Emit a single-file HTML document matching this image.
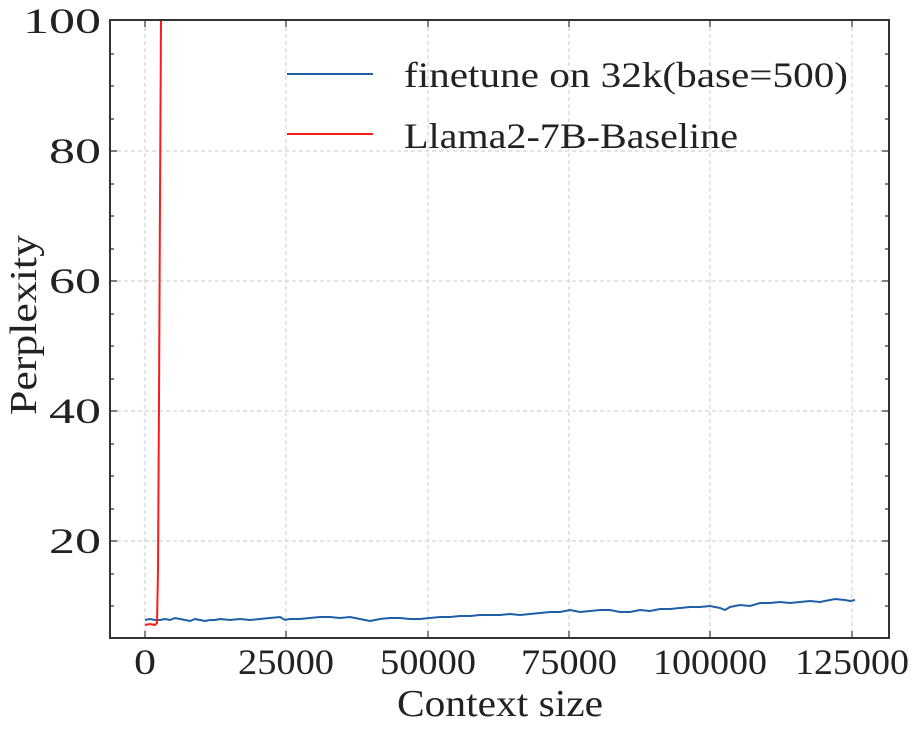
<!DOCTYPE html>
<html><head><meta charset="utf-8"><style>
html,body{margin:0;padding:0;background:#fff;}
svg text{font-family:"Liberation Serif",serif;fill:#222;}
</style></head><body>
<svg width="914" height="729" viewBox="0 0 914 729" xmlns="http://www.w3.org/2000/svg">
<rect width="914" height="729" fill="#fff"/>
<g stroke="#c8c8c8" stroke-width="1" stroke-dasharray="4,3">
<line x1="145" y1="20" x2="145" y2="638"/>
<line x1="286" y1="20" x2="286" y2="638"/>
<line x1="428" y1="20" x2="428" y2="638"/>
<line x1="569" y1="20" x2="569" y2="638"/>
<line x1="710" y1="20" x2="710" y2="638"/>
<line x1="852" y1="20" x2="852" y2="638"/>
<line x1="110" y1="541" x2="889" y2="541"/>
<line x1="110" y1="411" x2="889" y2="411"/>
<line x1="110" y1="281" x2="889" y2="281"/>
<line x1="110" y1="151" x2="889" y2="151"/>
</g>
<polyline fill="none" stroke="#1f5fa8" stroke-width="2" points="145,620 150,619 155,620 160,620 165,619 170,620 175,618 180,619 185,620 190,621 195,619 200,620 205,621 210,620 215,620 220,619 230,620 240,619 250,620 260,619 270,618 280,617 285,620 290,619 300,619 310,618 320,617 330,617 340,618 350,617 360,619 370,621 380,619 390,618 400,618 410,619 420,619 430,618 440,617 450,617 460,616 470,616 480,615 490,615 500,615 510,614 520,615 530,614 540,613 550,612 560,612 570,610 580,612 590,611 600,610 610,610 620,612 630,612 640,610 650,611 660,609 670,609 680,608 690,607 700,607 710,606 720,608 725,610 730,607 740,605 750,606 760,603 770,603 780,602 790,603 800,602 810,601 820,602 830,600 835,599 845,600 850,601 855,600"/>
<polyline fill="none" stroke="#ff1a1a" stroke-width="2" points="145,625 150,624 155,625 157,623 158,570 159,400 160,200 161,20"/>
<rect x="110" y="20" width="779" height="618" fill="none" stroke="#333" stroke-width="2"/>
<g stroke="#333" stroke-width="1.2">
<path d="M145 638v-7M286 638v-7M428 638v-7M569 638v-7M710 638v-7M852 638v-7M145 20v7M286 20v7M428 20v7M569 20v7M710 20v7M852 20v7"/>
<path d="M110 541h7M110 411h7M110 281h7M110 151h7M889 541h-7M889 411h-7M889 281h-7M889 151h-7"/>
<path d="M110 606h4M110 574h4M110 509h4M110 476h4M110 444h4M110 379h4M110 346h4M110 314h4M110 249h4M110 216h4M110 184h4M110 119h4M110 86h4M110 54h4
M889 606h-4M889 574h-4M889 509h-4M889 476h-4M889 444h-4M889 379h-4M889 346h-4M889 314h-4M889 249h-4M889 216h-4M889 184h-4M889 119h-4M889 86h-4M889 54h-4"/>
</g>
<g font-size="36" text-anchor="end">
<text x="101" y="33" textLength="78" lengthAdjust="spacingAndGlyphs">100</text>
<text x="101" y="163" textLength="52" lengthAdjust="spacingAndGlyphs">80</text>
<text x="101" y="293" textLength="52" lengthAdjust="spacingAndGlyphs">60</text>
<text x="101" y="423" textLength="52" lengthAdjust="spacingAndGlyphs">40</text>
<text x="101" y="553" textLength="52" lengthAdjust="spacingAndGlyphs">20</text>
</g>
<g font-size="36" text-anchor="middle">
<text x="145" y="674" textLength="22" lengthAdjust="spacingAndGlyphs">0</text>
<text x="286" y="674" textLength="96" lengthAdjust="spacingAndGlyphs">25000</text>
<text x="428" y="674" textLength="96" lengthAdjust="spacingAndGlyphs">50000</text>
<text x="569" y="674" textLength="96" lengthAdjust="spacingAndGlyphs">75000</text>
<text x="710" y="674" textLength="114" lengthAdjust="spacingAndGlyphs">100000</text>
<text x="852" y="674" textLength="114" lengthAdjust="spacingAndGlyphs">125000</text>
<text x="500" y="716" font-size="38" textLength="206" lengthAdjust="spacingAndGlyphs">Context size</text>
<text transform="translate(36,325) rotate(-90)" font-size="38" textLength="180" lengthAdjust="spacingAndGlyphs">Perplexity</text>
</g>
<line x1="287" y1="74" x2="373" y2="74" stroke="#1f5fa8" stroke-width="2"/>
<line x1="287" y1="134" x2="373" y2="134" stroke="#ff1a1a" stroke-width="2"/>
<g font-size="36">
<text x="404" y="87" textLength="444" lengthAdjust="spacingAndGlyphs">finetune on 32k(base=500)</text>
<text x="404" y="148" textLength="334" lengthAdjust="spacingAndGlyphs">Llama2-7B-Baseline</text>
</g>
</svg>
</body></html>
